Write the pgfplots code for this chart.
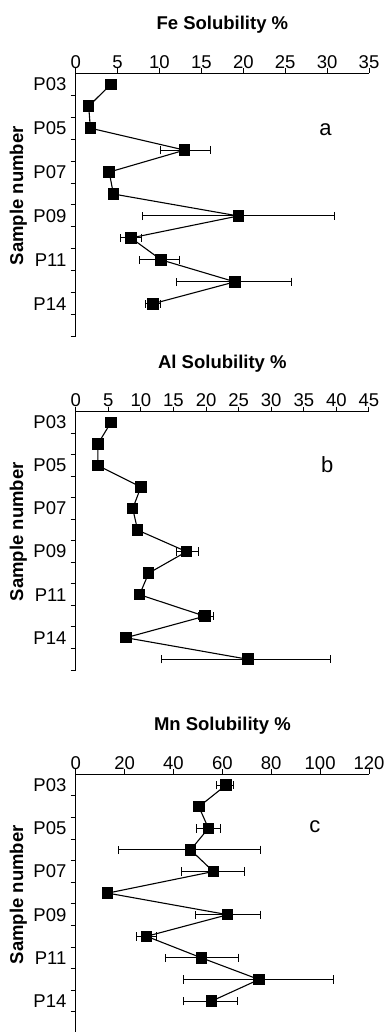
\documentclass[border=0pt]{standalone}
\usepackage{fontspec}
\setmainfont{Liberation Sans}
\usepackage{pgfplots}
\usepackage{pgfplotstable}
\pgfplotsset{compat=1.18}

% pos = slot of the sample on the vertical axis (P03 at the top = 11.5)
% v = solubility (%), em/ep = lower/upper error
\pgfplotstableread{
pos  v     em    ep
11.5 4.2   0.3   0.3
10.5 1.55  0.2   0.2
9.5  1.75  0.3   0.3
8.5  13.0  2.9   3.05
7.5  4.0   0.3   0.3
6.5  4.5   0.4   0.4
5.5  19.4  11.4  11.5
4.5  6.6   1.3   1.3
3.5  10.2  2.6   2.2
2.5  19.0  7.0   6.8
1.5  9.2   0.9   0.9
}\fedata

\pgfplotstableread{
pos  v     em    ep
11.5 5.4   0.4   0.4
10.5 3.4   0.3   0.3
9.5  3.4   0.4   0.4
8.5  10.0  0.5   0.5
7.5  8.75  0.3   0.3
6.5  9.5   0.4   0.4
5.5  17.0  1.6   1.8
4.5  11.2  0.4   0.4
3.5  9.8   0.4   0.4
2.5  19.8  1.0   1.3
1.5  7.7   0.4   0.4
0.5  26.4  13.2  12.7
}\aldata

\pgfplotstableread{
pos  v     em    ep
11.5 61.5  3.8   3.2
10.5 50.4  1.0   1.0
9.5  54.3  4.8   5.0
8.5  47.0  29.6  28.7
7.5  56.3  12.9  12.7
6.5  13.1  1.5   1.5
5.5  62.2  13.1  13.5
4.5  29.0  4.3   4.1
3.5  51.5  14.7  15.0
2.5  75.0  31.0  30.6
1.5  55.6  11.6  10.6
}\mndata

\pgfplotsset{
  solaxis/.style={
    scale only axis,
    width=293.3pt,
    anchor=north west,
    xmin=0, ymin=0, ymax=12,
    axis x line*=top, axis y line*=left,
    axis line style={line width=1.2pt},
    /pgf/number format/assume math mode=true,
    tick align=outside,
    major tick length=5pt,
    tick style={line width=1pt, black},
    xticklabel style={inner sep=0pt, yshift=-0.5pt},
    ytick={0,...,11},
    yticklabels={},
    extra y ticks={11.5,9.5,7.5,5.5,3.5,1.5},
    extra y tick labels={P03,P05,P07,P09,P11,P14},
    extra y tick style={major tick length=0pt, tick label style={xshift=-3pt}},
    ylabel={Sample number},
    ylabel style={at={(axis description cs:-0.1957,0.535)}, anchor=center, font=\bfseries},
    title style={at={(axis description cs:0.5,1)}, anchor=center, yshift=42.3pt, font=\bfseries},
  },
  solplot/.style={
    black, line width=1.1pt,
    mark=square*, mark size=5.2pt,
    mark options={solid, fill=black},
    error bars/.cd,
      x dir=both, x explicit,
      error bar style={line width=1pt},
      error mark options={line width=1pt, mark size=4.2pt, rotate=90},
  },
}

\begin{document}
\fontsize{18.5}{22}\selectfont
\begin{tikzpicture}

% (a) iron
\begin{axis}[solaxis, at={(75.7pt,-73.3pt)}, height=263.4pt,
  xmax=35, xtick={0,5,...,35},
  title={Fe Solubility \%}]
  \addplot+[solplot] table[x=v, y=pos, x error minus=em, x error plus=ep] {\fedata};
  \node[font=\fontsize{22}{26}\selectfont] at (axis cs:29.8,9.42) {a};
\end{axis}

% (b) aluminium
\begin{axis}[solaxis, at={(75.7pt,-411.7pt)}, height=258.3pt,
  xmax=45, xtick={0,5,...,45},
  title={Al Solubility \%}]
  \addplot+[solplot] table[x=v, y=pos, x error minus=em, x error plus=ep] {\aldata};
  \node[font=\fontsize{22}{26}\selectfont] at (axis cs:38.6,9.52) {b};
\end{axis}

% (c) manganese
\begin{axis}[solaxis, at={(75.7pt,-774.3pt)}, height=259.2pt,
  xmax=120, xtick={0,20,...,120},
  title={Mn Solubility \%}]
  \addplot+[solplot] table[x=v, y=pos, x error minus=em, x error plus=ep] {\mndata};
  \node[font=\fontsize{22}{26}\selectfont] at (axis cs:97.9,9.57) {c};
\end{axis}

\pgfresetboundingbox
\path[use as bounding box] (0,0) rectangle (384pt,-1032pt);
\end{tikzpicture}
\end{document}
